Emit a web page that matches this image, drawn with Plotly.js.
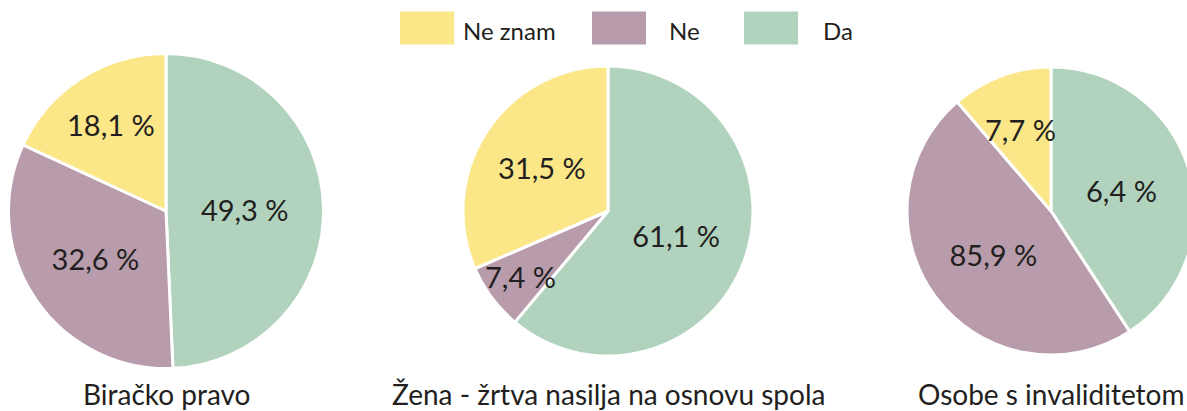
<!DOCTYPE html>
<html>
<head>
<meta charset="utf-8">
<script src="https://cdn.plot.ly/plotly-3.0.1.min.js"></script>
<style>
  html, body { margin: 0; padding: 0; background: #ffffff; overflow: hidden; }
  #chart { width: 1200px; height: 411px; }
</style>
</head>
<body>
<div id="chart"></div>
<script>
// ---- Data ----
const categories = ['Da', 'Ne', 'Ne znam'];
const legendOrder = ['Ne znam', 'Ne', 'Da'];
const chartTitles = ['Biračko pravo', 'Žena - žrtva nasilja na osnovu spola', 'Osobe s invaliditetom'];

const birackoValues = [49.3, 32.6, 18.1];
const zenaValues = [61.1, 7.4, 31.5];
// slice sizes as drawn in the reference and the percentages printed on them
const osobeSlices = [40.8, 47.9, 11.3];
const osobeLabels = [6.4, 85.9, 7.7];

// ---- Styles ----
const colorMap = { 'Da': '#b1d3bd', 'Ne': '#b89cab', 'Ne znam': '#fbe688' };
const textColor = '#231f20';
const fontFamily = 'Lato, "Open Sans", sans-serif';
const W = 1200, H = 411;

function fmt(v) { return v.toFixed(1).replace('.', ',') + ' %'; }
function dom(cx, cy, r) {
  return { x: [(cx - r) / W, (cx + r) / W], y: [(H - (cy + r)) / H, (H - (cy - r)) / H] };
}

// freeIdx: slices whose label is placed on the bisector (may overflow the slice), with radius fraction
const pies = [
  { values: birackoValues, labels: birackoValues, cx: 166, cy: 211, r: 157.5, freeIdx: -1, frac: 0 },
  { values: zenaValues, labels: zenaValues, cx: 608, cy: 211, r: 145, freeIdx: 1, frac: 0.75 },
  { values: osobeSlices, labels: osobeLabels, cx: 1051, cy: 211, r: 144, freeIdx: 2, frac: 0.6 }
];

const labelFont = { family: fontFamily, size: 29, color: textColor };

const data = pies.map(p => ({
  type: 'pie',
  values: p.values,
  labels: categories,
  text: p.labels.map(fmt),
  textinfo: 'text',
  textposition: p.values.map((v, i) => i === p.freeIdx ? 'none' : 'inside'),
  insidetextorientation: 'horizontal',
  sort: false,
  direction: 'clockwise',
  rotation: 0,
  domain: dom(p.cx, p.cy, p.r),
  hoverinfo: 'label+text',
  marker: { colors: categories.map(c => colorMap[c]), line: { color: '#ffffff', width: 3 } },
  textfont: labelFont,
  showlegend: false
}));

// legend drawn with shapes + annotations
const legendBoxX = [400, 592, 744];
const legendTextX = [461, 667, 821];
const shapes = legendOrder.map((c, i) => ({
  type: 'rect', xref: 'paper', yref: 'paper',
  x0: legendBoxX[i] / W, x1: (legendBoxX[i] + 54) / W,
  y0: (H - 44.5) / H, y1: (H - 11.5) / H,
  fillcolor: colorMap[c], line: { width: 0 }
}));
const annotations = legendOrder.map((c, i) => ({
  xref: 'paper', yref: 'paper', x: legendTextX[i] / W, y: (H - 30) / H,
  xanchor: 'left', yanchor: 'middle', showarrow: false, text: c,
  font: { family: fontFamily, size: 24, color: textColor }
}));

// labels placed on the slice bisector, computed from the slice values
pies.forEach(p => {
  if (p.freeIdx < 0) return;
  const total = p.values.reduce((a, b) => a + b, 0);
  const before = p.values.slice(0, p.freeIdx).reduce((a, b) => a + b, 0);
  const mid = (before + p.values[p.freeIdx] / 2) / total * 2 * Math.PI;
  const px = p.cx + p.frac * p.r * Math.sin(mid);
  const py = p.cy - p.frac * p.r * Math.cos(mid);
  annotations.push({
    xref: 'paper', yref: 'paper', x: px / W, y: (H - py) / H,
    xanchor: 'center', yanchor: 'middle', showarrow: false,
    text: fmt(p.labels[p.freeIdx]), font: labelFont
  });
});

chartTitles.forEach((t, i) => annotations.push({
  xref: 'paper', yref: 'paper', x: pies[i].cx / W, y: (H - 394) / H,
  xanchor: 'center', yanchor: 'middle', showarrow: false, text: t,
  font: { family: fontFamily, size: 28, color: textColor }
}));

const layout = {
  width: W, height: H,
  margin: { l: 0, r: 0, t: 0, b: 0 },
  paper_bgcolor: '#ffffff',
  showlegend: false,
  shapes: shapes,
  annotations: annotations
};

Plotly.newPlot('chart', data, layout, { displayModeBar: false, staticPlot: true });
</script>
</body>
</html>
